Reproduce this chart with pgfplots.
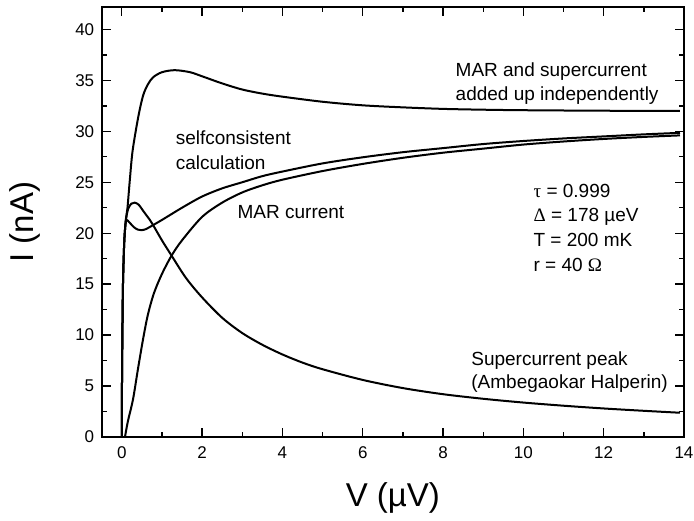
\documentclass[border=0pt]{standalone}
\usepackage{pgfplots}
\pgfplotsset{compat=1.18}
\usepackage{fontspec}
\setmainfont{Liberation Sans}
\newfontfamily\symf{Liberation Serif}
\tikzset{curve/.style={black, line width=2pt, smooth, mark=none}}
\begin{document}
\begin{tikzpicture}[x=1pt,y=1pt]
\path[use as bounding box] (-101.7,-84) rectangle (592.3,437);
\begin{axis}[
  at={(0,0)}, anchor=south west,
  scale only axis, width=582.3pt, height=430pt,
  xmin=-0.5, xmax=14, ymin=0, ymax=42.2,
  xtick={0,2,...,14}, ytick={0,5,...,40},
  minor x tick num=1, minor y tick num=1,
  tick align=inside, major tick length=9pt, minor tick length=5pt,
  axis line style={line width=1.8pt},
  every tick/.style={black, line width=1.4pt},
  tick label style={font=\fontsize{17}{17}\selectfont},
  /pgf/number format/assume math mode=true,
  xticklabel style={yshift=-6pt},
  yticklabel style={xshift=-4pt},
  xlabel={V (µV)}, ylabel={I (nA)},
  label style={font=\fontsize{33}{33}\selectfont},
  xlabel style={at={(axis description cs:0.5,-0.1419)}, anchor=center},
  ylabel style={at={(axis description cs:-0.1322,0.5)}, anchor=center},
  clip=false,
]
% Supercurrent peak (Ambegaokar Halperin)
\addplot[curve] coordinates {(0,0) (0.005,5) (0.015,10) (0.03,15) (0.06,19) (0.1,21.2) (0.16,22.4) (0.24,22.9) (0.32,23.0) (0.42,22.8) (0.55,22.1) (0.7,21.3) (0.78,20.8) (1.0,19.3) (1.24,17.8) (1.6,15.6) (2.0,13.7) (2.5,11.7) (3.0,10.2) (3.5,9.05) (4.0,8.1) (4.5,7.3) (5,6.65) (6,5.6) (7,4.8) (8,4.2) (9,3.75) (10,3.38) (11,3.07) (12,2.8) (13,2.57) (13.9,2.38)};
% selfconsistent calculation
\addplot[curve] coordinates {(0,0) (0.005,5) (0.015,10) (0.03,15) (0.06,19) (0.09,20.8) (0.12,21.3) (0.18,21.1) (0.3,20.6) (0.4,20.35) (0.49,20.3) (0.6,20.4) (0.78,20.8) (1.0,21.3) (1.5,22.5) (2.0,23.6) (2.5,24.4) (3.0,25.0) (3.5,25.6) (4,26.05) (5,26.85) (6,27.45) (7,27.95) (8,28.35) (9,28.75) (10,29.05) (11,29.3) (12,29.5) (13,29.7) (13.9,29.85)};
% MAR current
\addplot[curve] coordinates {(0.08,0) (0.15,1.5) (0.28,3.7) (0.4,6.6) (0.53,9.6) (0.65,12.0) (0.8,14.1) (1.0,16.0) (1.24,17.8) (1.5,19.3) (2.0,21.6) (2.5,23.0) (3.0,24.0) (3.5,24.7) (4,25.25) (5,26.1) (6,26.8) (7,27.4) (8,27.9) (9,28.3) (10,28.7) (11,29.0) (12,29.25) (13,29.45) (13.9,29.6)};
% MAR and supercurrent added up independently
\addplot[curve] coordinates {(0,0) (0.005,5) (0.015,10) (0.03,15) (0.06,19) (0.1,21.3) (0.14,22.4) (0.2,25.2) (0.27,28.1) (0.41,31.4) (0.53,33.5) (0.65,34.6) (0.78,35.3) (1.0,35.8) (1.32,36.0) (1.7,35.8) (2.0,35.4) (2.5,34.7) (3.0,34.1) (3.5,33.7) (4,33.4) (5,32.9) (6,32.55) (7,32.35) (8,32.2) (9,32.12) (10,32.07) (12,32.02) (13.9,32.0)};
\draw[line width=1.8pt] (rel axis cs:0,0) rectangle (rel axis cs:1,1);
\begin{scope}[every node/.style={anchor=base west, inner sep=0pt, font=\fontsize{19}{19}\selectfont}]
\node at (axis cs:8.31,35.33) {MAR and supercurrent};
\node at (axis cs:8.31,33.06) {added up independently};
\node at (axis cs:1.34,28.75) {selfconsistent};
\node at (axis cs:1.34,26.30) {calculation};
\node at (axis cs:2.88,21.42) {MAR current};
\node at (axis cs:10.25,23.55) {{\symf τ} = 0.999};
\node at (axis cs:10.25,21.10) {{\symf Δ} = 178 µeV};
\node at (axis cs:10.25,18.65) {T = 200 mK};
\node at (axis cs:10.25,16.20) {r = 40 {\symf Ω}};
\node at (axis cs:8.70,6.98) {Supercurrent peak};
\node at (axis cs:8.70,4.75) {(Ambegaokar Halperin)};
\end{scope}
\end{axis}
\end{tikzpicture}
\end{document}
